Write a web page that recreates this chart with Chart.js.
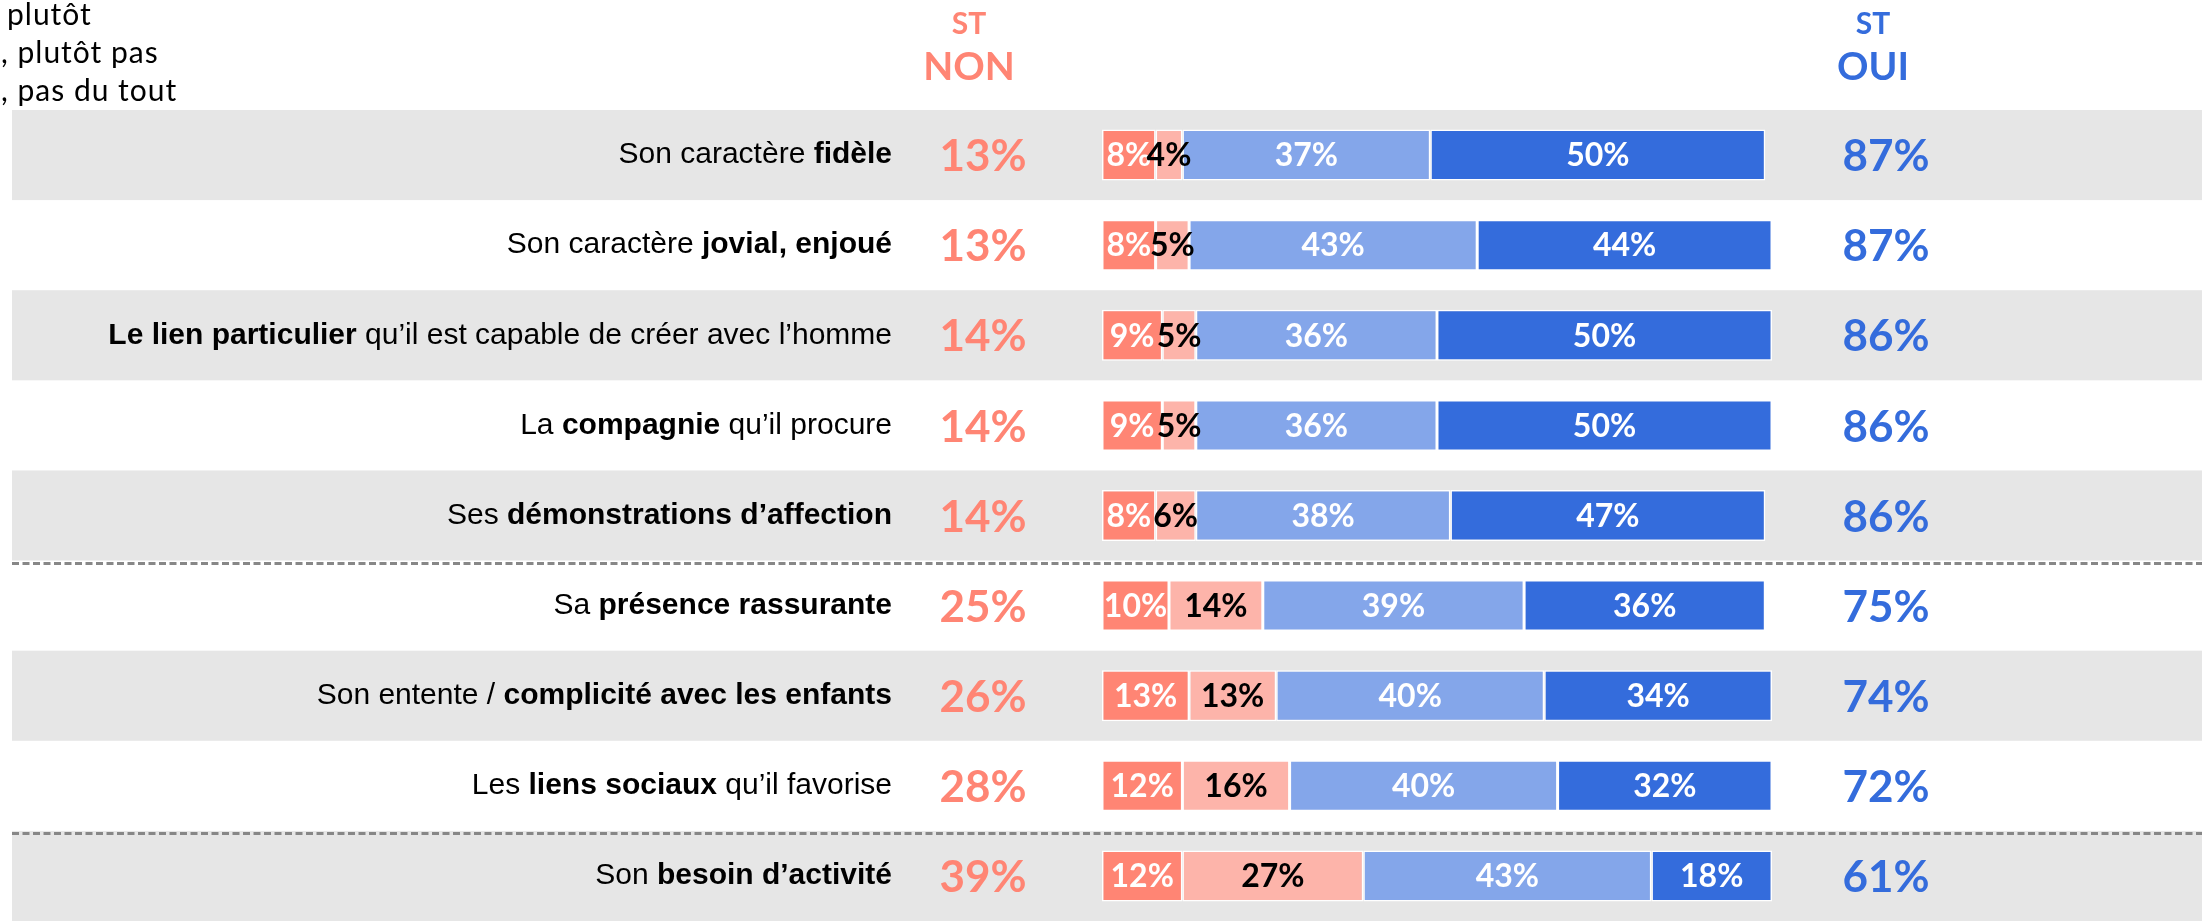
<!DOCTYPE html>
<html lang="fr">
<head>
  <meta charset="UTF-8">
  <title>Qualités du chien</title>
  <script src="https://cdn.jsdelivr.net/npm/chart.js"></script>
  <style>
    body {
      margin: 0;
      background: #fff;
    }
    #wrap {
      width: 2202px;
      height: 921px;
      position: relative;
    }
  </style>
</head>
<body>
  <div id="wrap">
    <canvas id="chart" width="2202" height="921"></canvas>
  </div>

  <script>
    // labels: **...** = bold part
    const categories = [
      'Son caractère **fidèle**',
      'Son caractère **jovial, enjoué**',
      '**Le lien particulier** qu’il est capable de créer avec l’homme',
      'La **compagnie** qu’il procure',
      'Ses **démonstrations d’affection**',
      'Sa **présence rassurante**',
      'Son entente / **complicité avec les enfants**',
      'Les **liens sociaux** qu’il favorise',
      'Son **besoin d’activité**'
    ];

    const nonPasDuTout = [8, 8, 9, 9, 8, 10, 13, 12, 12];
    const nonPlutotPas = [4, 5, 5, 5, 6, 14, 13, 16, 27];
    const ouiPlutot = [37, 43, 36, 36, 38, 39, 40, 40, 43];
    const ouiToutAFait = [50, 44, 50, 50, 47, 36, 34, 32, 18];

    const totalNon = [13, 13, 14, 14, 14, 25, 26, 28, 39];
    const totalOui = [87, 87, 86, 86, 86, 75, 74, 72, 61];

    const legendLines = ['plutôt', ', plutôt pas', ', pas du tout'];

    const numFont = 'Lato, "DejaVu Sans", sans-serif';
    const labelFont = '"Liberation Sans", Arial, sans-serif';
    const salmon = '#FF8574';
    const blue = '#346CDC';

    // grey bands + dashed separators behind the bars
    const rowBands = {
      id: 'rowBands',
      beforeDatasetsDraw(chart) {
        const ctx = chart.ctx;
        const y = chart.scales.y;
        const half = (y.getPixelForValue(1) - y.getPixelForValue(0)) / 2;
        ctx.save();
        categories.forEach((c, i) => {
          if (i % 2 === 0) {
            const cy = y.getPixelForValue(i);
            ctx.fillStyle = '#E6E6E6';
            ctx.fillRect(12, cy - half, chart.width - 12, half * 2);
          }
        });
        // separators after row 5 and row 8
        ctx.strokeStyle = '#878787';
        ctx.lineWidth = 3;
        ctx.setLineDash([7, 3.5]);
        [4, 7].forEach(i => {
          const ly = Math.round(y.getPixelForValue(i) + half) + 2.5;
          ctx.beginPath();
          ctx.moveTo(12, ly);
          ctx.lineTo(chart.width, ly);
          ctx.stroke();
        });
        ctx.restore();
      }
    };

    // row labels, totals, in-bar values, headers
    const texts = {
      id: 'texts',
      afterDatasetsDraw(chart) {
        const ctx = chart.ctx;
        const y = chart.scales.y;
        const area = chart.chartArea;
        ctx.save();

        // values inside bars
        ctx.font = 'bold 32px ' + numFont;
        ctx.textAlign = 'center';
        ctx.textBaseline = 'middle';
        chart.data.datasets.forEach((ds, di) => {
          const meta = chart.getDatasetMeta(di);
          meta.data.forEach((bar, i) => {
            const p = bar.getCenterPoint();
            ctx.fillStyle = di === 1 ? '#000' : '#fff';
            ctx.fillText(ds.data[i] + '%', p.x, p.y + 1);
          });
        });

        // category labels with bold parts, right aligned
        categories.forEach((lab, i) => {
          const parts = lab.split('**');
          const cy = y.getPixelForValue(i);
          let total = 0;
          parts.forEach((t, k) => {
            ctx.font = (k % 2 ? 'bold ' : '') + '30px ' + labelFont;
            total += ctx.measureText(t).width;
          });
          let x = area.left - 210 - total;
          ctx.textAlign = 'left';
          ctx.fillStyle = '#000';
          parts.forEach((t, k) => {
            ctx.font = (k % 2 ? 'bold ' : '') + '30px ' + labelFont;
            ctx.fillText(t, x, cy);
            x += ctx.measureText(t).width;
          });

          // totals
          ctx.textAlign = 'center';
          ctx.font = 'bold 44px ' + numFont;
          ctx.fillStyle = salmon;
          ctx.fillText(totalNon[i] + '%', area.left - 119, cy + 2);
          ctx.fillStyle = blue;
          ctx.fillText(totalOui[i] + '%', area.right + 114, cy + 2);
        });

        // headers
        ctx.textBaseline = 'alphabetic';
        ctx.textAlign = 'center';
        ctx.fillStyle = salmon;
        ctx.font = 'bold 30px ' + numFont;
        ctx.fillText('ST', area.left - 133, 34);
        ctx.font = 'bold 39px ' + numFont;
        ctx.fillText('NON', area.left - 133, 80);
        ctx.fillStyle = blue;
        ctx.font = 'bold 30px ' + numFont;
        ctx.fillText('ST', area.right + 101, 34);
        ctx.font = 'bold 39px ' + numFont;
        ctx.fillText('OUI', area.right + 101, 80);

        // truncated legend at top-left
        ctx.textAlign = 'left';
        ctx.fillStyle = '#000';
        ctx.font = '30px ' + numFont;
        ctx.letterSpacing = '1px';
        ctx.fillText(legendLines[0], 7, 25);
        ctx.fillText(legendLines[1], 1, 63);
        ctx.fillText(legendLines[2], 1, 101);
        ctx.letterSpacing = '0px';

        ctx.restore();
      }
    };

    const common = {
      borderColor: '#fff',
      borderWidth: 1.5,
      borderSkipped: false,
      barPercentage: 0.566,
      categoryPercentage: 1
    };

    new Chart(document.getElementById('chart'), {
      type: 'bar',
      data: {
        labels: categories,
        datasets: [
          { label: 'Non, pas du tout', data: nonPasDuTout, backgroundColor: '#FF8574', ...common },
          { label: 'Non, plutôt pas', data: nonPlutotPas, backgroundColor: '#FDB4AA', ...common },
          { label: 'Oui, plutôt', data: ouiPlutot, backgroundColor: '#84A6EA', ...common },
          { label: 'Oui, tout à fait', data: ouiToutAFait, backgroundColor: '#346CDC', ...common }
        ]
      },
      options: {
        indexAxis: 'y',
        responsive: false,
        animation: false,
        layout: {
          padding: { left: 1102, right: 430, top: 110, bottom: 0 }
        },
        scales: {
          x: { stacked: true, min: 0, max: 100, display: false },
          y: { stacked: true, display: false }
        },
        plugins: {
          legend: { display: false },
          tooltip: { enabled: false }
        }
      },
      plugins: [rowBands, texts]
    });
  </script>
</body>
</html>
